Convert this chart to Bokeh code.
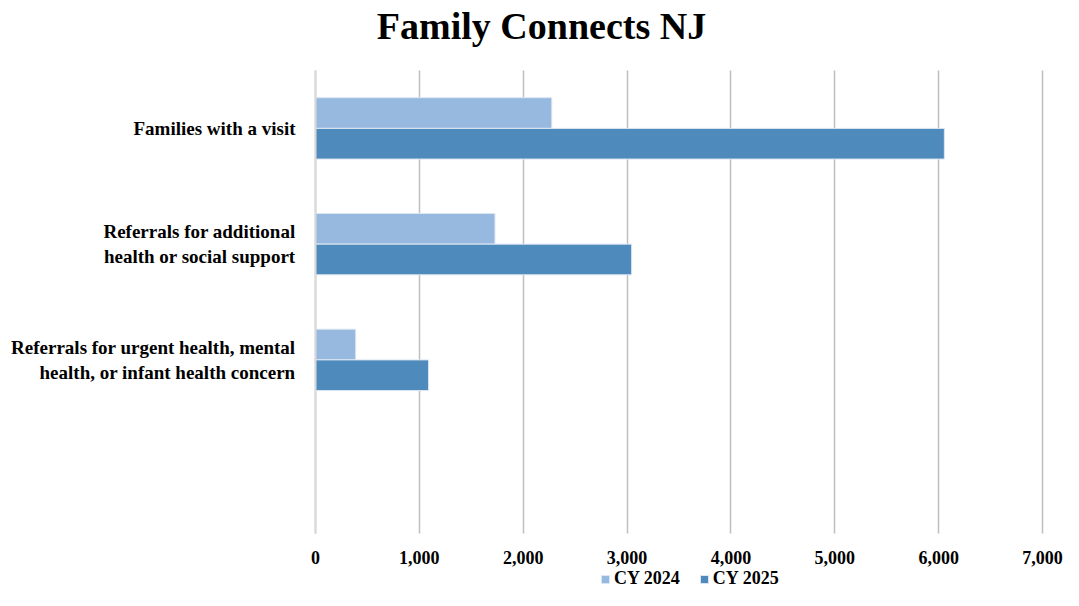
from bokeh.plotting import figure
from bokeh.models import (Range1d, FixedTicker, NumeralTickFormatter, LinearAxis,
                          Legend, LegendItem, ColumnDataSource, Label)
from bokeh.embed import file_html
from bokeh.resources import INLINE

# ---- data ----
title_text = "Family Connects NJ"
categories = [
    "Families with a visit",
    "Referrals for additional\nhealth or social support",
    "Referrals for urgent health, mental\nhealth, or infant health concern",
]
series_names = ["CY 2024", "CY 2025"]
cy2024 = [2275, 1728, 387]
cy2025 = [6055, 3044, 1089]
x_ticks = [0, 1000, 2000, 3000, 4000, 5000, 6000, 7000]

# ---- layout constants ----
W, H = 1063, 590
FONT = "Liberation Serif"
LIGHT = "#97B9E0"
DARK = "#4F8ABC"
GRID = "#BFBFBF"
SLOT_PX = 115.75          # pixel height of one category slot
TOP_PX = 70               # space above first slot
BOTTOM_PX = 57            # space below last slot (axis labels + legend)
LEFT_PX = 315             # space left of the value axis start
RIGHT_PX = 21             # space right of the value axis end
BAR_H = 0.265
DODGE = 0.1325

n_slots = len(categories) + 1          # one empty slot at the bottom (as in the original)
centers = [n_slots - i - 0.5 for i in range(len(categories))]

x0, x1 = x_ticks[0], x_ticks[-1]
ppu = (W - LEFT_PX - RIGHT_PX) / (x1 - x0)

source = ColumnDataSource(dict(
    y24=[c + DODGE for c in centers],
    y25=[c - DODGE for c in centers],
    cy2024=cy2024, cy2025=cy2025,
))

p = figure(
    width=W, height=H,
    x_range=Range1d(x0 - LEFT_PX / ppu, x1 + RIGHT_PX / ppu),
    y_range=Range1d(-BOTTOM_PX / SLOT_PX, n_slots + TOP_PX / SLOT_PX),
    output_backend="svg", toolbar_location=None,
    min_border_left=0, min_border_right=0,
    min_border_top=0, min_border_bottom=0,
)

r1 = p.hbar(y="y24", right="cy2024", left=0, height=BAR_H, source=source,
            fill_color=LIGHT, line_color="#DCE6F2", line_width=1)
r2 = p.hbar(y="y25", right="cy2025", left=0, height=BAR_H, source=source,
            fill_color=DARK, line_color="#DCE6F2", line_width=1)

# x axis (lines only): sits at y=0, its long inward ticks act as vertical gridlines
xa = p.xaxis[0]
xa.fixed_location = 0
xa.level = "underlay"
xa.ticker = FixedTicker(ticks=x_ticks)
xa.axis_line_color = None
xa.minor_tick_line_color = None
xa.major_tick_line_color = GRID
xa.major_tick_line_width = 1.5
xa.major_tick_in = int(round(SLOT_PX * n_slots))
xa.major_tick_out = 0
xa.major_label_text_color = None

# x axis (labels only)
xl = LinearAxis(
    fixed_location=0,
    ticker=FixedTicker(ticks=x_ticks),
    formatter=NumeralTickFormatter(format="0,0"),
    axis_line_color=None, major_tick_line_color=None, minor_tick_line_color=None,
    major_tick_in=0, major_tick_out=0, major_label_standoff=17,
    major_label_text_font=FONT, major_label_text_font_size="18px",
    major_label_text_font_style="bold", major_label_text_color="#000000",
)
p.add_layout(xl, "below")

# y axis with category labels, placed at x=0
ya = p.yaxis[0]
ya.fixed_location = 0
ya.ticker = FixedTicker(ticks=centers)
ya.major_label_overrides = {c: lab for c, lab in zip(centers, categories)}
ya.bounds = (0, n_slots)
ya.axis_line_color = "#D9D9D9"
ya.axis_line_width = 2
ya.major_tick_line_color = None
ya.minor_tick_line_color = None
ya.major_tick_out = 0
ya.major_tick_in = 0
ya.major_label_standoff = 20
ya.major_label_text_font = FONT
ya.major_label_text_font_size = "19px"
ya.major_label_text_font_style = "bold"
ya.major_label_text_color = "#000000"

p.xgrid.grid_line_color = None
p.ygrid.grid_line_color = None
p.outline_line_color = None

title = Label(x=541, y=H - 25, x_units="screen", y_units="screen",
              text=title_text, text_align="center", text_baseline="alphabetic",
              text_font=FONT, text_font_size="38px", text_font_style="bold",
              text_color="#000000")
p.add_layout(title)

legend = Legend(
    items=[LegendItem(label=series_names[0], renderers=[r1]),
           LegendItem(label=series_names[1], renderers=[r2])],
    orientation="horizontal", location=(600, 1),
    glyph_width=10, glyph_height=10, label_standoff=4, spacing=19,
    padding=0, margin=0, border_line_color=None, background_fill_alpha=0,
    label_text_font=FONT, label_text_font_size="18px",
    label_text_font_style="bold", label_text_color="#000000",
    label_height=18,
)
p.add_layout(legend, "center")

open("out.html", "w").write(file_html(p, INLINE))
